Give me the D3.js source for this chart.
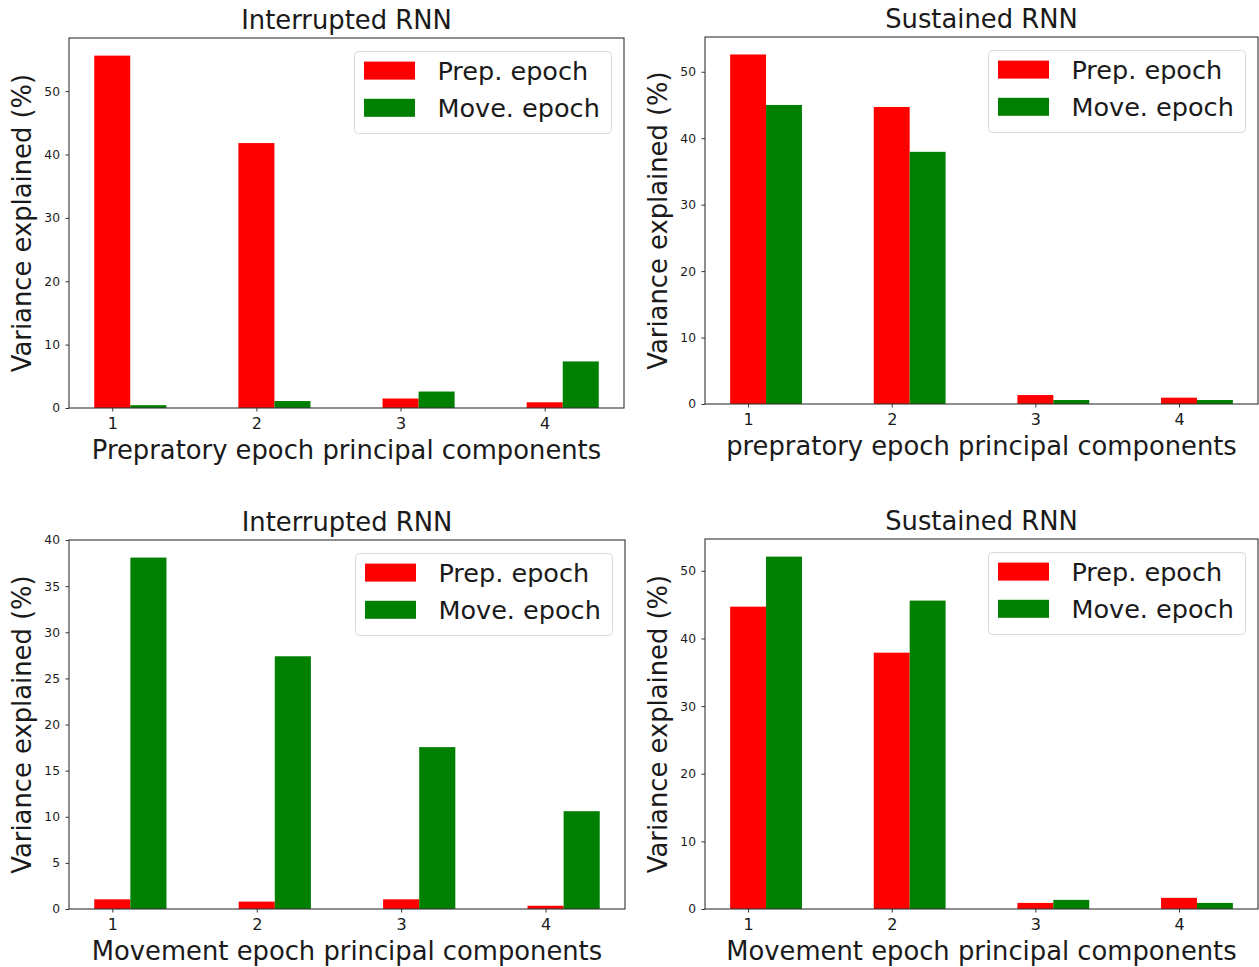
<!DOCTYPE html>
<html>
<head>
<meta charset="utf-8">
<script src="https://cdn.jsdelivr.net/npm/d3@7/dist/d3.min.js"></script>
<style>
  html, body { margin: 0; padding: 0; background: #fff; }
  svg { display: block; font-family: "DejaVu Sans", sans-serif; }
</style>
</head>
<body>
<svg id="chart" width="1259" height="967"></svg>
<script>
// Principal component indices shown on every x axis
const components = [1, 2, 3, 4];
const xTickLabels = ["1", "2", "3", "4"];

// Variance explained (%) by the preparatory-epoch principal components
const prepPCsInterruptedPrep = [55.6, 41.8, 1.5, 0.9];
const prepPCsInterruptedMove = [0.45, 1.1, 2.6, 7.35];
const prepPCsSustainedPrep = [52.6, 44.7, 1.35, 0.95];
const prepPCsSustainedMove = [45.0, 37.95, 0.6, 0.6];

// Variance explained (%) by the movement-epoch principal components
const movePCsInterruptedPrep = [1.05, 0.8, 1.05, 0.35];
const movePCsInterruptedMove = [38.1, 27.4, 17.55, 10.6];
const movePCsSustainedPrep = [44.7, 37.9, 0.9, 1.65];
const movePCsSustainedMove = [52.1, 45.6, 1.35, 0.9];

// Y-axis tick values per panel
const yTicksPrepInterrupted = [0, 10, 20, 30, 40, 50];
const yTicksPrepSustained = [0, 10, 20, 30, 40, 50];
const yTicksMoveInterrupted = [0, 5, 10, 15, 20, 25, 30, 35, 40];
const yTicksMoveSustained = [0, 10, 20, 30, 40, 50];

const seriesNames = ["Prep. epoch", "Move. epoch"];
const seriesColors = ["#ff0000", "#008000"];

const panels = [
  { title: "Interrupted RNN", xLabel: "Prepratory epoch principal components",
    prep: prepPCsInterruptedPrep, move: prepPCsInterruptedMove, yTicks: yTicksPrepInterrupted,
    box: { left: 69, right: 624, top: 38, bottom: 408 } },
  { title: "Sustained RNN", xLabel: "prepratory epoch principal components",
    prep: prepPCsSustainedPrep, move: prepPCsSustainedMove, yTicks: yTicksPrepSustained,
    box: { left: 705, right: 1258, top: 37, bottom: 404 } },
  { title: "Interrupted RNN", xLabel: "Movement epoch principal components",
    prep: movePCsInterruptedPrep, move: movePCsInterruptedMove, yTicks: yTicksMoveInterrupted,
    box: { left: 69, right: 625, top: 540, bottom: 909 } },
  { title: "Sustained RNN", xLabel: "Movement epoch principal components",
    prep: movePCsSustainedPrep, move: movePCsSustainedMove, yTicks: yTicksMoveSustained,
    box: { left: 705, right: 1258, top: 539, bottom: 909 } }
];

const svg = d3.select("#chart");
const barWidth = 0.25;
const bigFont = 25.8;
const textColor = "#1a1a1a";
const spineColor = "#333";

panels.forEach(p => {
  const b = p.box;
  const xMin = components[0] - barWidth / 2;
  const xMax = components[components.length - 1] + barWidth * 1.5;
  const pad = (xMax - xMin) * 0.05;
  const x = d3.scaleLinear().domain([xMin - pad, xMax + pad]).range([b.left, b.right]);
  const yMax = d3.max(p.prep.concat(p.move)) * 1.05;
  const y = d3.scaleLinear().domain([0, yMax]).range([b.bottom, b.top]);

  const g = svg.append("g");

  // bars: Prep. epoch centred on the component, Move. epoch shifted right by one bar width
  [p.prep, p.move].forEach((vals, si) => {
    g.selectAll(null)
      .data(vals.map((v, i) => ({ c: components[i], v })))
      .join("rect")
      .attr("x", d => x(d.c - barWidth / 2 + si * barWidth))
      .attr("width", x(barWidth) - x(0))
      .attr("y", d => y(d.v))
      .attr("height", d => y(0) - y(d.v))
      .attr("fill", seriesColors[si]);
  });

  // y axis
  const yAxis = d3.axisLeft(y).tickValues(p.yTicks).tickSize(3.5).tickPadding(5.5).tickFormat(d3.format("d"));
  const ya = g.append("g").attr("transform", `translate(${b.left},0)`).call(yAxis);
  ya.select(".domain").remove();
  ya.selectAll(".tick line").attr("stroke", spineColor);
  ya.selectAll(".tick text").attr("font-size", 12.3).attr("fill", textColor)
    .attr("font-family", "DejaVu Sans");

  // x axis
  const xAxis = d3.axisBottom(x).tickValues(components).tickSize(3.5).tickPadding(6.5)
    .tickFormat((d, i) => xTickLabels[i]);
  const xa = g.append("g").attr("transform", `translate(0,${b.bottom})`).call(xAxis);
  xa.select(".domain").remove();
  xa.selectAll(".tick line").attr("stroke", spineColor);
  xa.selectAll(".tick text").attr("font-size", 16).attr("fill", textColor)
    .attr("font-family", "DejaVu Sans");

  // frame
  g.append("rect")
    .attr("x", b.left).attr("y", b.top)
    .attr("width", b.right - b.left).attr("height", b.bottom - b.top)
    .attr("fill", "none").attr("stroke", spineColor).attr("stroke-width", 1.1);

  const cx = (b.left + b.right) / 2;
  // title
  g.append("text").attr("x", cx).attr("y", b.top - 9)
    .attr("text-anchor", "middle").attr("font-size", bigFont).attr("fill", textColor)
    .text(p.title);
  // x label
  g.append("text").attr("x", cx).attr("y", b.bottom + 51)
    .attr("text-anchor", "middle").attr("font-size", bigFont).attr("fill", textColor)
    .text(p.xLabel);
  // y label
  const ly = (b.top + b.bottom) / 2;
  g.append("text")
    .attr("transform", `translate(${b.left - 47},${ly}) rotate(-90)`)
    .attr("dy", "0.35em")
    .attr("text-anchor", "middle").attr("font-size", bigFont).attr("fill", textColor)
    .text("Variance explained (%)");

  // legend
  const lw = 257, lh = 82;
  const lx = b.right - 13 - lw, lyTop = b.top + 13;
  const lg = g.append("g").attr("transform", `translate(${lx},${lyTop})`);
  lg.append("rect").attr("x", 0.5).attr("y", 0.5).attr("width", lw).attr("height", lh)
    .attr("rx", 4).attr("fill", "#fff").attr("fill-opacity", 0.8)
    .attr("stroke", "#d9d9d9").attr("stroke-width", 1);
  seriesNames.forEach((name, i) => {
    const rowY = 19.6 + i * 37.2;
    lg.append("rect").attr("x", 10).attr("y", rowY - 9).attr("width", 51).attr("height", 18)
      .attr("fill", seriesColors[i]);
    lg.append("text").attr("x", 83.4).attr("y", rowY).attr("dy", "0.36em")
      .attr("font-size", bigFont * 0.99).attr("fill", textColor).text(name);
  });
});
</script>
</body>
</html>
